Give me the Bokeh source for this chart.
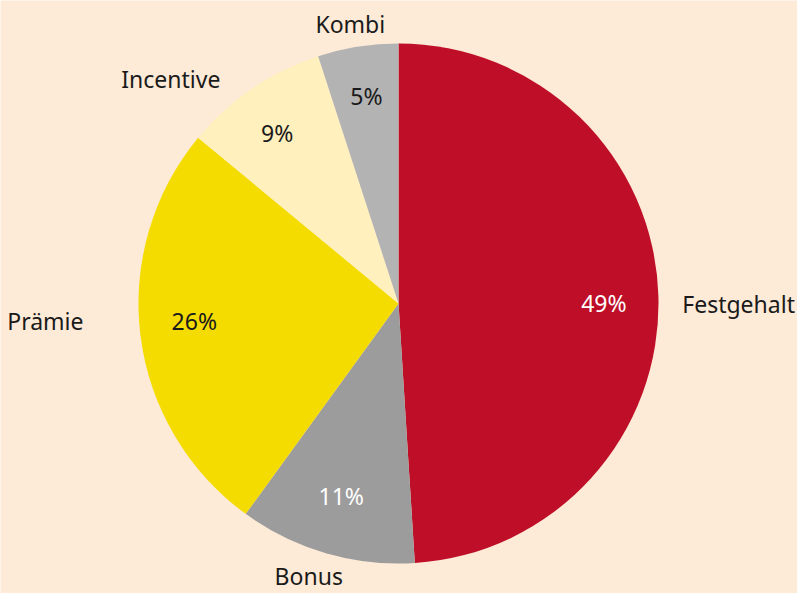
import math
from bokeh.plotting import figure
from bokeh.models import ColumnDataSource, Range1d
from bokeh.core.properties import value
from bokeh.embed import file_html
from bokeh.resources import INLINE

# data
categories = ["Festgehalt", "Bonus", "Prämie", "Incentive", "Kombi"]
shares = [49, 11, 26, 9, 5]
colors = ["#BE0E28", "#9C9C9C", "#F5DC00", "#FFF0BE", "#B3B3B3"]
pct_colors = ["#FFFFFF", "#FFFFFF", "#1A1A1A", "#1A1A1A", "#1A1A1A"]

# layout for labels (relative radius, angle tweaks in degrees)
label_r = [1.308, 1.105, 1.36, 1.23, 1.09]
label_dang = [-1.8, -2.0, -4.3, 11.2, 0.8]
pct_dang = [-3.0, 0, -1.0, 2.0, 0]

W, H = 797, 593
CX, CY, R = 398, H - 303, 260
FONT = "Noto Sans"
FS = "23px"

total = sum(shares)
starts, ends, mids = [], [], []
cum = 0.0
for s in shares:
    a_end = math.radians(90 - cum / total * 360)
    cum += s
    a_start = math.radians(90 - cum / total * 360)
    starts.append(a_start)
    ends.append(a_end)
    mids.append((a_start + a_end) / 2)

src = ColumnDataSource(dict(start=starts, end=ends, color=colors))

p = figure(width=W, height=H, output_backend="svg", toolbar_location=None,
           x_range=Range1d(0, W), y_range=Range1d(0, H),
           x_axis_location=None, y_axis_location=None, min_border=0)
p.grid.visible = False
p.outline_line_color = None
p.background_fill_color = "#FDEAD7"
p.border_fill_color = "#FDEAD7"

p.wedge(x=CX, y=CY, radius=R, start_angle="start", end_angle="end",
        fill_color="color", line_color=None, source=src)

# percentage labels
px, py = [], []
for m, da in zip(mids, pct_dang):
    a = m + math.radians(da)
    px.append(CX + 0.79 * R * math.cos(a))
    py.append(CY + 0.79 * R * math.sin(a) + 5)
ptxt = [f"{s}%" for s in shares]
p.text(x=px, y=py, text=ptxt, text_color=pct_colors, text_align="center",
       text_baseline="middle", text_font=value(FONT), text_font_size=FS)

# category labels
lx, ly = [], []
for m, rr, da in zip(mids, label_r, label_dang):
    a = m + math.radians(da)
    lx.append(CX + rr * R * math.cos(a))
    ly.append(CY + rr * R * math.sin(a))
p.text(x=lx, y=ly, text=categories, text_color="#1A1A1A", text_align="center",
       text_baseline="middle", text_font=value(FONT), text_font_size=FS)

open("out.html", "w").write(file_html(p, INLINE))
